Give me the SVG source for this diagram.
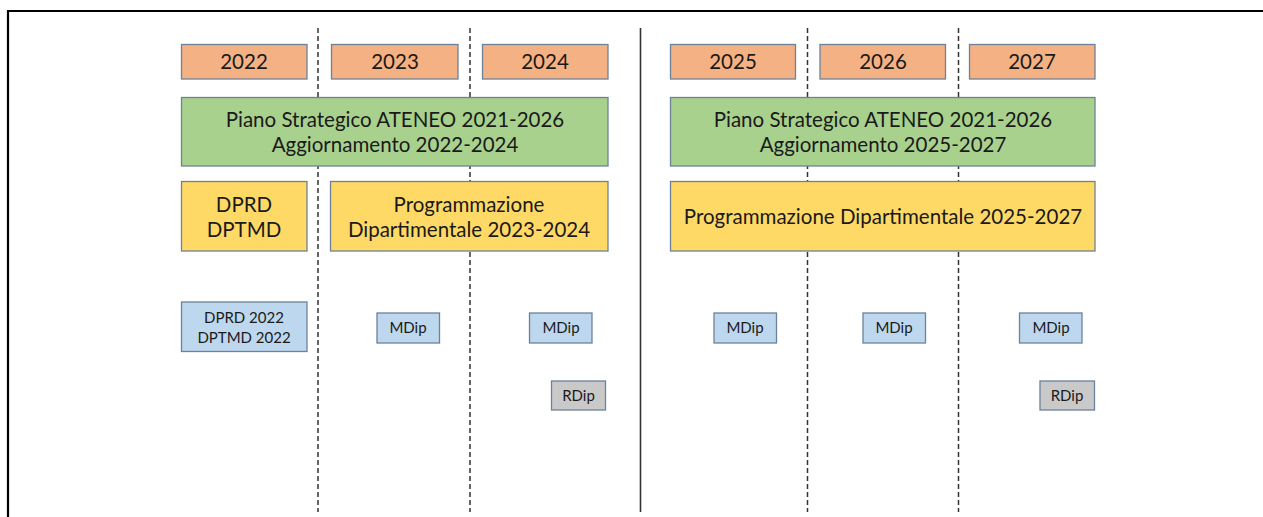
<svg xmlns="http://www.w3.org/2000/svg" width="1263" height="517" viewBox="0 0 1263 517">
<style>
.frame{fill:none;stroke:#000;stroke-width:2.2}
.dash{stroke:#333;stroke-width:1.5;stroke-dasharray:5,3}
.solid{stroke:#333;stroke-width:1.6}
.box{stroke:#6D8198;stroke-width:1.3}
.yr{fill:#F4B183}
.gr{fill:#A9D18E}
.ye{fill:#FFD966}
.bl{fill:#BDD7EE}
.gy{fill:#C9C9C9}
text{font-family:Lato,"Open Sans","Liberation Sans",sans-serif;fill:#1a1a1a;text-anchor:middle}
.l{font-size:20.5px}
.s{font-size:15px}
</style>
<rect width="1263" height="517" fill="#fff"/>
<path class="frame" d="M8,530 V11 H1280"/>
<g id="connectors">
<line class="dash" x1="318" y1="28" x2="318" y2="512"/>
<line class="dash" x1="470" y1="28" x2="470" y2="512"/>
<line class="solid" x1="640.5" y1="28" x2="640.5" y2="512"/>
<line class="dash" x1="807.5" y1="28" x2="807.5" y2="512"/>
<line class="dash" x1="958.5" y1="28" x2="958.5" y2="512"/>
</g>
<g id="y2022"><rect class="box yr" x="181.5" y="44.5" width="125.5" height="34.5"/><text class="l" x="244" y="69">2022</text></g>
<g id="y2023"><rect class="box yr" x="331.5" y="44.5" width="126.5" height="34.5"/><text class="l" x="395" y="69">2023</text></g>
<g id="y2024"><rect class="box yr" x="482.5" y="44.5" width="125.5" height="34.5"/><text class="l" x="545" y="69">2024</text></g>
<g id="y2025"><rect class="box yr" x="670.5" y="44.5" width="125" height="34.5"/><text class="l" x="733" y="69">2025</text></g>
<g id="y2026"><rect class="box yr" x="820" y="44.5" width="125.5" height="34.5"/><text class="l" x="883" y="69">2026</text></g>
<g id="y2027"><rect class="box yr" x="969.5" y="44.5" width="125.5" height="34.5"/><text class="l" x="1032" y="69">2027</text></g>
<g id="piano1"><rect class="box gr" x="181.5" y="97.5" width="426.5" height="68.5"/><text class="l" x="395" y="127">Piano Strategico ATENEO 2021-2026</text><text class="l" x="395" y="152">Aggiornamento 2022-2024</text></g>
<g id="piano2"><rect class="box gr" x="670.5" y="97.5" width="424.5" height="68.5"/><text class="l" x="883" y="127">Piano Strategico ATENEO 2021-2026</text><text class="l" x="883" y="152">Aggiornamento 2025-2027</text></g>
<g id="dprd"><rect class="box ye" x="181.5" y="181.5" width="125.5" height="69.5"/><text class="l" x="244" y="211.5">DPRD</text><text class="l" x="244" y="236.5">DPTMD</text></g>
<g id="prog1"><rect class="box ye" x="330.5" y="181.5" width="277.5" height="69.5"/><text class="l" x="469" y="211.5">Programmazione</text><text class="l" x="469" y="236.5">Dipartimentale 2023-2024</text></g>
<g id="prog2"><rect class="box ye" x="670.5" y="181.5" width="424.5" height="69.5"/><text class="l" x="883" y="223.5">Programmazione Dipartimentale 2025-2027</text></g>
<g id="dprd2022"><rect class="box bl" x="181.5" y="302" width="125.5" height="49.5"/><text class="s" x="244" y="323">DPRD 2022</text><text class="s" x="244" y="343">DPTMD 2022</text></g>
<g id="mdip2023"><rect class="box bl" x="377" y="313" width="62.5" height="30"/><text class="s" x="408" y="333">MDip</text></g>
<g id="mdip2024"><rect class="box bl" x="529.5" y="313" width="62.5" height="30"/><text class="s" x="561" y="333">MDip</text></g>
<g id="rdip2024"><rect class="box gy" x="551.5" y="381" width="54" height="29"/><text class="s" x="578.5" y="400.5">RDip</text></g>
<g id="mdip2025"><rect class="box bl" x="714" y="313" width="62.5" height="30"/><text class="s" x="745" y="333">MDip</text></g>
<g id="mdip2026"><rect class="box bl" x="863" y="313" width="62.5" height="30"/><text class="s" x="894" y="333">MDip</text></g>
<g id="mdip2027"><rect class="box bl" x="1019.5" y="313" width="62.5" height="30"/><text class="s" x="1051" y="333">MDip</text></g>
<g id="rdip2027"><rect class="box gy" x="1040" y="381" width="54.5" height="29"/><text class="s" x="1067" y="400.5">RDip</text></g>
</svg>
